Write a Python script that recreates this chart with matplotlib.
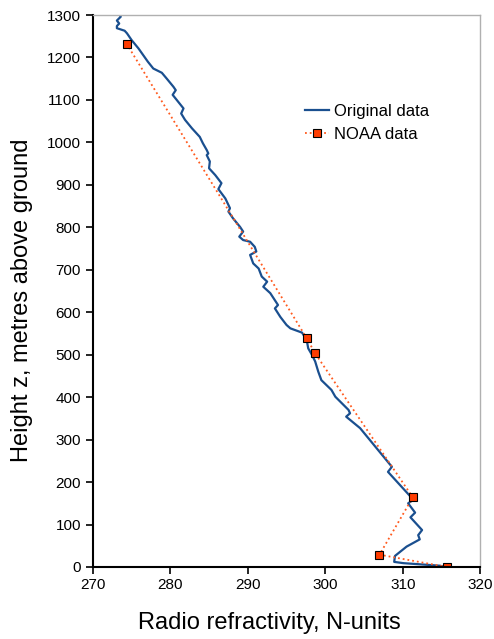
import matplotlib.pyplot as plt

plt.rcParams['font.family'] = ['Liberation Sans', 'DejaVu Sans']

# original profile (N-units, metres)
orig_n = [315.5, 314.8, 310.1, 308.9, 309.0, 310.5, 312.2, 312.0, 312.5, 311.0,
          311.6, 310.7, 311.2, 311.0, 308.1, 308.6, 304.5, 302.7, 303.2, 303.0,
          301.3, 300.8, 299.5, 299.1, 298.7, 298.3, 297.8, 297.6, 297.0, 295.5,
          295.0, 294.2, 293.5, 293.9, 292.9, 292.0, 292.5, 291.8, 291.4, 290.7,
          290.3, 291.1, 290.9, 290.3, 289.4, 288.9, 289.4, 289.0, 288.1, 287.5,
          287.7, 287.1, 286.2, 286.6, 285.8, 285.0, 285.1, 284.7, 284.9, 284.7,
          284.2, 283.8, 282.8, 281.9, 281.4, 281.7, 281.0, 280.3, 280.7, 280.4,
          279.5, 278.9, 277.8, 277.1, 275.9, 275.0, 274.4, 274.1, 273.1, 273.1,
          273.4, 273.1, 273.6, 273.3]
orig_z = [0, 3, 9, 12, 26, 48, 65, 75, 87, 117,
          128, 150, 156, 166, 224, 236, 327, 354, 362, 370,
          401, 417, 440, 460, 484, 499, 515, 535, 552, 562,
          570, 589, 609, 617, 645, 660, 672, 684, 703, 715,
          735, 743, 754, 766, 770, 778, 790, 801, 821, 837,
          845, 868, 890, 904, 923, 939, 955, 970, 974, 982,
          998, 1013, 1033, 1053, 1068, 1080, 1096, 1112, 1123, 1131,
          1151, 1164, 1174, 1190, 1221, 1241, 1257, 1263, 1269, 1274,
          1280, 1287, 1296, 1305]

noaa_n = [315.7, 307.0, 311.3, 298.7, 297.6, 274.4]
noaa_z = [0, 29, 164, 503, 539, 1231]

fig = plt.figure(figsize=(4.94, 6.39), dpi=100)
ax = fig.add_axes([0.188, 0.1127, 0.784, 0.8638])

ax.plot(orig_n, orig_z, color='#1a4f8f', lw=1.6, label='Original data')
ax.plot(noaa_n, noaa_z, color='#ff5a1e', lw=1.3, ls=':', marker='s', ms=6,
        mfc='#ff3c00', mec='black', mew=0.8, label='NOAA data')

ax.set_xlim(270, 320)
ax.set_ylim(0, 1300)
ax.set_xticks(range(270, 321, 10))
ax.set_yticks(range(0, 1301, 100))
ax.tick_params(labelsize=11, length=5, width=1.2, direction='out')
ax.tick_params(axis='x', pad=3)

for s in ['top', 'right']:
    ax.spines[s].set_color('#b0b0b0')
    ax.spines[s].set_linewidth(1)
ax.spines['left'].set_linewidth(1.5)
ax.spines['bottom'].set_linewidth(1.5)

ax.set_xlabel('Radio refractivity, N-units', fontsize=17)
ax.set_ylabel('Height z, metres above ground', fontsize=17)
ax.xaxis.set_label_coords(0.457, -0.082)
ax.yaxis.set_label_coords(-0.155, 0.484)

ax.legend(loc='upper left', bbox_to_anchor=(0.51, 0.866), frameon=False,
          fontsize=12, handlelength=1.4, handletextpad=0.3, labelspacing=0.5)

fig.savefig('out.png', dpi=100)
